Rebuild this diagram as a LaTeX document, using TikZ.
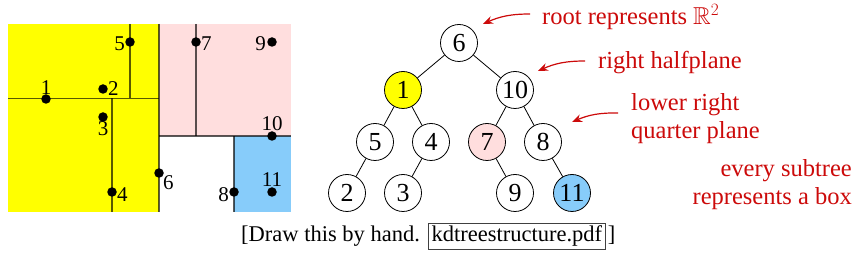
\documentclass[tikz,border=0pt]{standalone}
\usepackage{amssymb}
\usepackage{fontspec}
\setmainfont{Liberation Serif}
\usetikzlibrary{arrows.meta}
\definecolor{yellowbox}{RGB}{255,255,0}
\definecolor{pinkbox}{RGB}{255,222,222}
\definecolor{bluebox}{RGB}{135,204,250}
\definecolor{redtext}{RGB}{204,10,10}
\begin{document}
\begin{tikzpicture}[x=1pt,y=-1pt,
  splitline/.style={draw=black,draw opacity=0.65,line width=1.1pt},
  pt/.style={circle,fill=black,inner sep=0pt,minimum size=9.5pt},
  lbl/.style={font=\fontsize{21}{23}\selectfont,inner sep=1pt},
  tnode/.style={circle,draw=black,line width=0.8pt,minimum size=37pt,inner sep=0pt,font=\fontsize{26}{28}\selectfont},
  tedge/.style={draw=black,line width=0.8pt},
  note/.style={text=redtext,font=\fontsize{24.5}{28}\selectfont,inner sep=0pt},
  capfont/.style={font=\fontsize{22.5}{27}\selectfont},
  notearrow/.style={draw=redtext,line width=1.2pt,-{Stealth[length=10pt,width=8pt]}}]
\useasboundingbox (0,0) rectangle (857,261);
% regions
\fill[yellowbox] (8,24) rectangle (159,212);
\fill[pinkbox] (159,24) rectangle (291,136);
\fill[bluebox] (234,136) rectangle (291,212);
% split lines
\draw[splitline] (8,98.5) -- (159,98.5);
\draw[splitline] (130,24) -- (130,98.5);
\draw[splitline] (112,98.5) -- (112,212);
\draw[splitline] (159,24) -- (159,212);
\draw[splitline] (159,136) -- (291,136);
\draw[splitline] (196,24) -- (196,136);
\draw[splitline] (234,136) -- (234,212);
% points
\node[pt] (p1) at (46,99) {};
\node[lbl,above=3pt] at (p1) {1};
\node[pt] (p2) at (103,89) {};
\node[lbl,right=4pt] at (p2) {2};
\node[pt] (p3) at (103,117) {};
\node[lbl,below=3pt] at (p3) {3};
\node[pt] (p4) at (112,192) {};
\node[lbl,right=4pt,yshift=-3pt] at (p4) {4};
\node[pt] (p5) at (130,42) {};
\node[lbl,left=4pt,yshift=-2pt] at (p5) {5};
\node[pt] (p6) at (159,173) {};
\node[lbl,anchor=north west,xshift=3pt,yshift=-1pt] at (p6) {6};
\node[pt] (p7) at (196,42) {};
\node[lbl,right=4pt,yshift=-2pt] at (p7) {7};
\node[pt] (p8) at (234,192) {};
\node[lbl,left=4pt,yshift=-3pt] at (p8) {8};
\node[pt] (p9) at (272,42) {};
\node[lbl,left=5pt,yshift=-2pt] at (p9) {9};
\node[pt] (p10) at (272,136) {};
\node[lbl,above=4pt] at (p10) {10};
\node[pt] (p11) at (272,192) {};
\node[lbl,above=4pt] at (p11) {11};
% tree
\node[tnode] (t6) at (459,43) {6};
\node[tnode,fill=yellowbox] (t1) at (403,90) {1};
\node[tnode] (t10) at (515,90) {10};
\node[tnode] (t5) at (375,142) {5};
\node[tnode] (t4) at (431,142) {4};
\node[tnode,fill=pinkbox] (t7) at (487,142) {7};
\node[tnode] (t8) at (543,142) {8};
\node[tnode] (t2) at (347,193) {2};
\node[tnode] (t3) at (403,193) {3};
\node[tnode] (t9) at (515,193) {9};
\node[tnode,fill=bluebox] (t11) at (572,193) {11};
\draw[tedge] (t6) -- (t1);
\draw[tedge] (t6) -- (t10);
\draw[tedge] (t1) -- (t5);
\draw[tedge] (t1) -- (t4);
\draw[tedge] (t10) -- (t7);
\draw[tedge] (t10) -- (t8);
\draw[tedge] (t5) -- (t2);
\draw[tedge] (t4) -- (t3);
\draw[tedge] (t7) -- (t9);
\draw[tedge] (t8) -- (t11);
% notes
\node[note,anchor=west] (n1) at (542,17) {root represents $\mathbb{R}^2$};
\node[note,anchor=west] (n2) at (598,63) {right halfplane};
\node[note,anchor=west,align=left] (n3) at (631,119) {lower right\\quarter plane};
\node[note,anchor=east,align=right] (n4) at (852,185) {every subtree\\represents a box};
\coordinate (a1s) at (530,14);
\coordinate (a1e) at (483,24);
\coordinate (a2s) at (585,61);
\coordinate (a2e) at (538,71);
\coordinate (a3s) at (618,113);
\coordinate (a3e) at (572,122);
\draw[notearrow] (a1s) to[bend right=12] (a1e);
\draw[notearrow] (a2s) to[bend right=12] (a2e);
\draw[notearrow] (a3s) to[bend right=12] (a3e);
% caption
\node[capfont,inner sep=0pt,anchor=base west] (cap) at (241,242) {[Draw this by hand.};
\node[draw=black!75,line width=0.9pt,capfont,inner sep=3pt,anchor=base west] (file) at ([xshift=8pt]cap.east |- cap.base) {kdtreestructure.pdf};
\node[capfont,inner sep=0pt,anchor=base west] (br) at ([xshift=2pt]file.east |- cap.base) {]};
\end{tikzpicture}
\end{document}
